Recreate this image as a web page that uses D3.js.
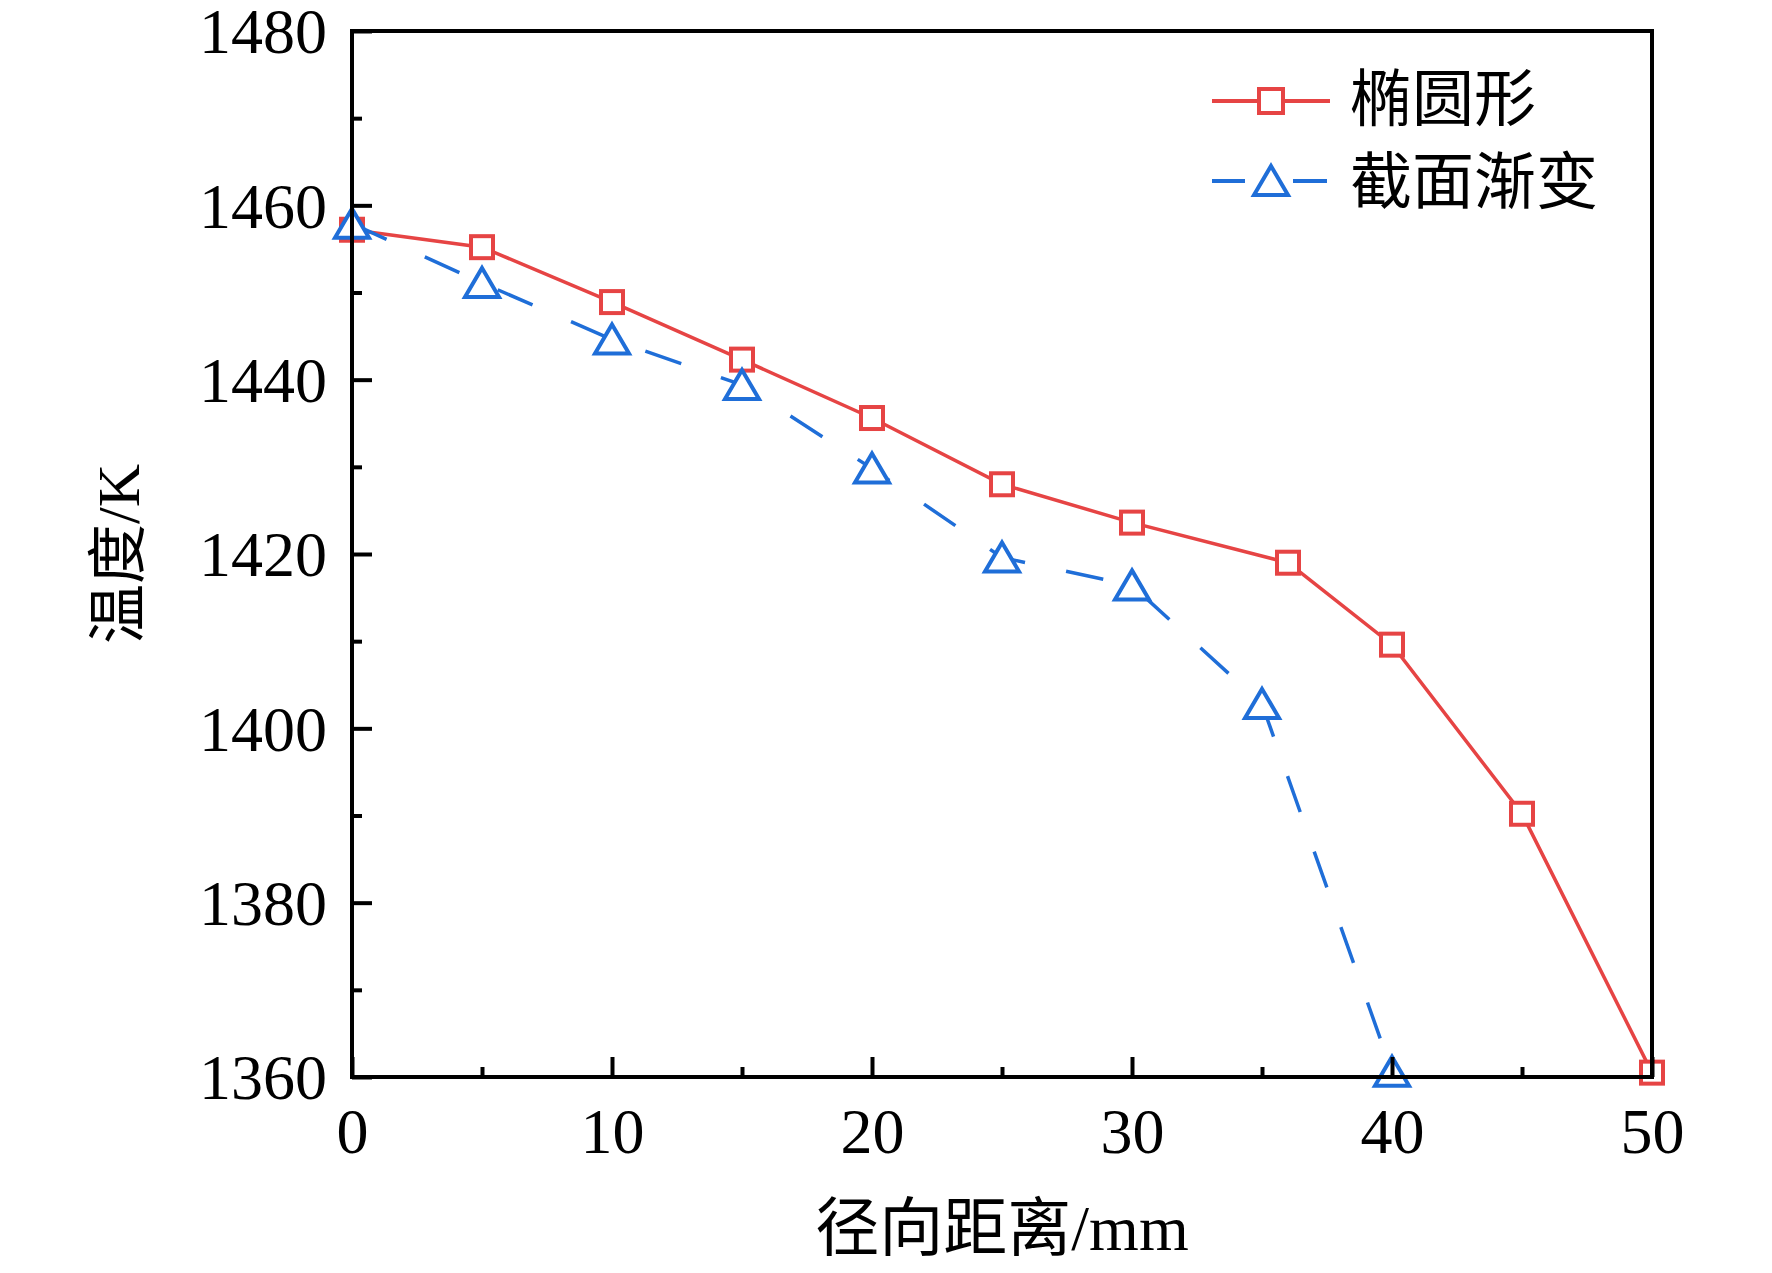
<!DOCTYPE html>
<html>
<head>
<meta charset="utf-8">
<script src="https://cdn.jsdelivr.net/npm/d3@7"></script>
<style>
body { margin: 0; background: #fff; }
text { font-family: "Liberation Serif", "Noto Sans CJK SC", serif; fill: #000; }
</style>
</head>
<body>
<script>
// data
var ellipseX = [0, 5, 10, 15, 20, 25, 30, 36, 40, 45, 50];
var ellipseT = [1457.2, 1455.2, 1448.9, 1442.3, 1435.6, 1428.0, 1423.6, 1419.0, 1409.6, 1390.2, 1360.5];
var taperX = [0, 5, 10, 15, 20, 25, 30, 35, 40];
var taperT = [1457.9, 1451.1, 1444.6, 1439.4, 1429.8, 1419.6, 1416.4, 1402.8, 1360.6];
var seriesNames = ['椭圆形', '截面渐变'];
var xTicks = [0, 10, 20, 30, 40, 50];
var xMinor = [5, 15, 25, 35, 45];
var yTicks = [1360, 1380, 1400, 1420, 1440, 1460, 1480];
var yMinor = [1370, 1390, 1410, 1430, 1450, 1470];

var W = 1772, H = 1273,
    pLeft = 352, pRight = 1652, pTop = 31, pBottom = 1077,
    red = '#e64444', blue = '#1f6ed8';

var svg = d3.select('body').append('svg')
            .attr('width', W).attr('height', H);

var x = d3.scaleLinear().domain([0, 50]).range([pLeft, pRight]);
var y = d3.scaleLinear().domain([1360, 1480]).range([pBottom, pTop]);

var line = d3.line()
    .x(function(d) { return x(d[0]); })
    .y(function(d) { return y(d[1]); });

var redPts = d3.zip(ellipseX, ellipseT),
    bluePts = d3.zip(taperX, taperT);

svg.append('path')
   .datum(redPts)
   .attr('d', line)
   .attr('fill', 'none')
   .attr('stroke', red)
   .attr('stroke-width', 3.5);

svg.append('path')
   .datum(bluePts)
   .attr('d', line)
   .attr('fill', 'none')
   .attr('stroke', blue)
   .attr('stroke-width', 3.5)
   .attr('stroke-dasharray', '38,42');

var tri = 'M0,-15L17,14L-17,14Z';

svg.selectAll('.sq').data(redPts).enter().append('rect')
   .attr('class', 'sq')
   .attr('x', function(d) { return x(d[0]) - 11; })
   .attr('y', function(d) { return y(d[1]) - 11; })
   .attr('width', 22).attr('height', 22)
   .attr('fill', '#fff')
   .attr('stroke', red)
   .attr('stroke-width', 4);

svg.selectAll('.tri').data(bluePts).enter().append('path')
   .attr('class', 'tri')
   .attr('transform', function(d) { return 'translate(' + x(d[0]) + ',' + y(d[1]) + ')'; })
   .attr('d', tri)
   .attr('fill', '#fff')
   .attr('stroke', blue)
   .attr('stroke-width', 4)
   .attr('stroke-linejoin', 'miter');

// axes on top of the marks
var xAxis = svg.append('g')
   .attr('transform', 'translate(0,' + pBottom + ')')
   .call(d3.axisBottom(x).tickValues(xTicks).tickSize(-20).tickPadding(30).tickFormat(d3.format('d')));
var xAxisMinor = svg.append('g')
   .attr('transform', 'translate(0,' + pBottom + ')')
   .call(d3.axisBottom(x).tickValues(xMinor).tickSize(-10).tickFormat(''));
var yAxis = svg.append('g')
   .attr('transform', 'translate(' + pLeft + ',0)')
   .call(d3.axisLeft(y).tickValues(yTicks).tickSize(-20).tickPadding(25).tickFormat(d3.format('d')));
var yAxisMinor = svg.append('g')
   .attr('transform', 'translate(' + pLeft + ',0)')
   .call(d3.axisLeft(y).tickValues(yMinor).tickSize(-10).tickFormat(''));

svg.selectAll('.domain').remove();
svg.selectAll('.tick line').attr('stroke', '#000').attr('stroke-width', 4);
svg.selectAll('.tick text')
   .style('font-family', '"Liberation Serif", serif')
   .style('font-size', '64px')
   .attr('fill', '#000');
xAxis.selectAll('.tick text').attr('dy', '0.72em');
yAxis.selectAll('.tick text').attr('dy', '0.34em');

svg.append('rect')
   .attr('x', pLeft).attr('y', pTop)
   .attr('width', pRight - pLeft).attr('height', pBottom - pTop)
   .attr('fill', 'none')
   .attr('stroke', '#000')
   .attr('stroke-width', 4);

// axis titles
svg.append('text')
   .attr('x', (pLeft + pRight) / 2)
   .attr('y', 1250)
   .attr('text-anchor', 'middle')
   .style('font-size', '64px')
   .text('径向距离/mm');

svg.append('text')
   .attr('transform', 'translate(119,' + (pTop + pBottom) / 2 + ') rotate(-90)')
   .attr('text-anchor', 'middle')
   .attr('dominant-baseline', 'central')
   .style('font-size', '60px')
   .text('温度/K');

// legend
var lg = svg.append('g');
lg.append('line')
  .attr('x1', 1212).attr('x2', 1330).attr('y1', 101).attr('y2', 101)
  .attr('stroke', red).attr('stroke-width', 4);
lg.append('rect')
  .attr('x', 1271 - 12).attr('y', 101 - 12).attr('width', 24).attr('height', 24)
  .attr('fill', '#fff').attr('stroke', red).attr('stroke-width', 4);
lg.append('line')
  .attr('x1', 1212).attr('x2', 1245).attr('y1', 181).attr('y2', 181)
  .attr('stroke', blue).attr('stroke-width', 4);
lg.append('line')
  .attr('x1', 1293).attr('x2', 1327).attr('y1', 181).attr('y2', 181)
  .attr('stroke', blue).attr('stroke-width', 4);
lg.append('path')
  .attr('transform', 'translate(1271,181)')
  .attr('d', tri)
  .attr('fill', '#fff').attr('stroke', blue).attr('stroke-width', 4);
lg.selectAll('.lt').data(seriesNames).enter().append('text')
  .attr('x', 1350)
  .attr('y', function(d, i) { return 121 + i * 83; })
  .style('font-size', '62px')
  .text(function(d) { return d; });
</script>
</body>
</html>
